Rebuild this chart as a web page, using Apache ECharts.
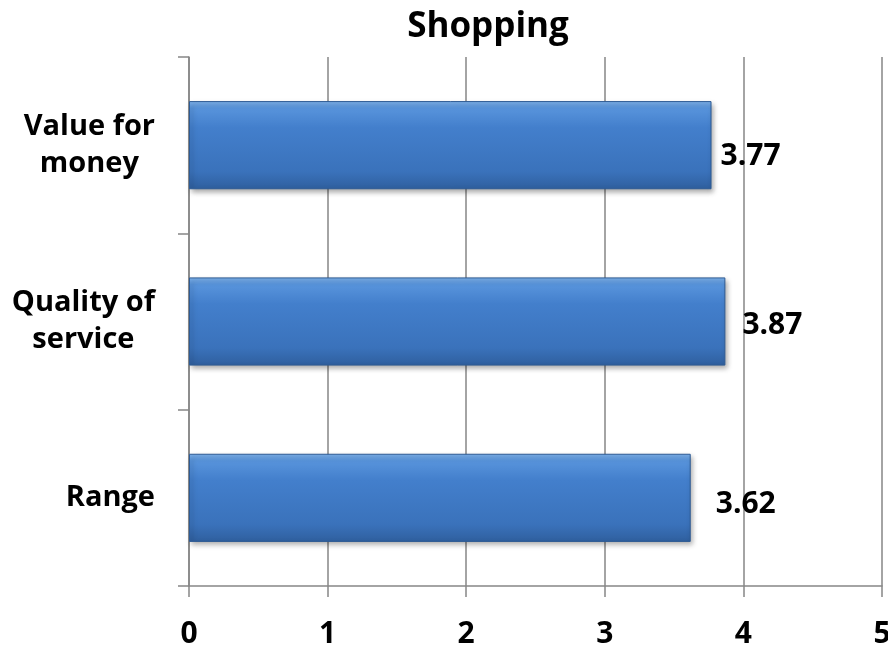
<!DOCTYPE html>
<html>
<head>
<meta charset="utf-8">
<script src="https://cdn.jsdelivr.net/npm/echarts@6/dist/echarts.min.js"></script>
<style>
html,body{margin:0;padding:0;background:#fff;}
#chart{width:888px;height:646px;}
</style>
</head>
<body>
<div id="chart"></div>
<script>
var titleText = 'Shopping';
var categories = ['Range', 'Quality of\nservice', 'Value for\nmoney'];
var values = [3.62, 3.87, 3.77];
var xTicks = [0, 1, 2, 3, 4, 5];

// label placement tweaks (style only)
var labelDistance = [25, 17, 9];
var labelOffsetY = [7, 4, 11];

var FONT = '"Open Sans", "Liberation Sans", sans-serif';
var AXIS_COLOR = '#868686';

var barGradient = new echarts.graphic.LinearGradient(0, 0, 0, 1, [
  {offset: 0, color: '#7fb3ec'},
  {offset: 0.08, color: '#5894dc'},
  {offset: 0.3, color: '#437fcc'},
  {offset: 0.8, color: '#3a72bb'},
  {offset: 1, color: '#2f5f9e'}
]);

var chart = echarts.init(document.getElementById('chart'), null, {renderer: 'canvas'});
chart.setOption({
  backgroundColor: '#ffffff',
  animation: false,
  title: {
    text: titleText,
    left: 483,
    textAlign: 'center',
    top: 5,
    textStyle: {fontFamily: FONT, fontWeight: 'bold', fontSize: 35, color: '#000'}
  },
  grid: {left: 189, right: 6, top: 57, bottom: 60, containLabel: false, outerBoundsMode: 'none'},
  xAxis: {
    type: 'value',
    min: xTicks[0],
    max: xTicks[xTicks.length - 1],
    interval: 1,
    axisLine: {show: true, lineStyle: {color: AXIS_COLOR, width: 1.5}},
    axisTick: {show: true, length: 11, lineStyle: {color: AXIS_COLOR, width: 1.5}},
    splitLine: {show: true, lineStyle: {color: AXIS_COLOR, width: 1.5}},
    axisLabel: {
      margin: 33,
      fontFamily: FONT, fontWeight: 'bold', fontSize: 30, color: '#000',
      showMaxLabel: true,
      hideOverlap: false,
      formatter: function (v) { return String(v); }
    }
  },
  yAxis: {
    type: 'category',
    data: categories,
    axisLine: {show: true, lineStyle: {color: AXIS_COLOR, width: 1.5}},
    axisTick: {show: true, length: 11, alignWithLabel: false, lineStyle: {color: AXIS_COLOR, width: 1.5}},
    splitLine: {show: false},
    axisLabel: {
      margin: 34,
      align: 'right',
      fontFamily: FONT, fontWeight: 'bold', fontSize: 29, color: '#000',
      lineHeight: 37,
      formatter: function (v) {
        return v.split('\n').map(function (s) { return '{c|' + s + '}'; }).join('\n');
      },
      rich: {
        c: {align: 'center', fontFamily: FONT, fontWeight: 'bold', fontSize: 29, color: '#000', lineHeight: 37}
      }
    }
  },
  series: [{
    type: 'bar',
    barWidth: '50%',
    data: values.map(function (v, i) {
      return {
        value: v,
        label: {distance: labelDistance[i], offset: [0, labelOffsetY[i]]}
      };
    }),
    itemStyle: {
      color: barGradient,
      borderColor: '#2e5b94',
      borderWidth: 1,
      shadowColor: 'rgba(0,0,0,0.35)',
      shadowBlur: 5,
      shadowOffsetX: 2,
      shadowOffsetY: 3
    },
    label: {
      show: true,
      position: 'right',
      fontFamily: FONT, fontWeight: 'bold', fontSize: 30, color: '#000',
      formatter: function (p) { return p.value.toFixed(2); }
    }
  }]
});
</script>
</body>
</html>
